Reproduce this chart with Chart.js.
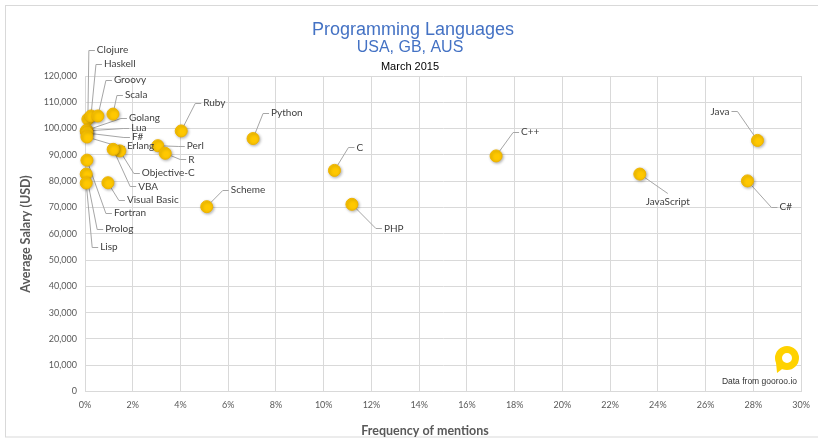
<!DOCTYPE html>
<html>
<head>
<meta charset="utf-8">
<title>Programming Languages</title>
<script src="https://cdn.jsdelivr.net/npm/chart.js@4"></script>
<style>
  body { margin: 0; background: #fff; }
</style>
</head>
<body>
<canvas id="langChart" width="818" height="444"></canvas>
<script>
// data (March 2015)
const languages = ['Clojure', 'Haskell', 'Groovy', 'Scala', 'Golang', 'Lua', 'F#', 'Erlang',
  'Objective-C', 'VBA', 'Visual Basic', 'Fortran', 'Prolog', 'Lisp', 'Ruby', 'Perl', 'R',
  'Python', 'Scheme', 'C', 'PHP', 'C++', 'JavaScript', 'Java', 'C#'];
const mentions = [0.12, 0.25, 0.54, 1.17, 0.08, 0.05, 0.08, 0.08,
  1.46, 1.18, 0.96, 0.08, 0.05, 0.05, 4.03, 3.05, 3.36,
  7.04, 5.1, 10.45, 11.18, 17.22, 23.24, 28.17, 27.75];
const salaries = [103600, 104800, 104800, 105500, 99400, 99100, 98300, 96800,
  91500, 92100, 79400, 88000, 82700, 79300, 99100, 93500, 90600,
  96200, 70300, 84100, 71200, 89600, 82700, 95500, 80100];
const xTickLabels = ['0%', '2%', '4%', '6%', '8%', '10%', '12%', '14%', '16%',
  '18%', '20%', '22%', '24%', '26%', '28%', '30%'];
const yTickLabels = ['0', '10,000', '20,000', '30,000', '40,000', '50,000', '60,000',
  '70,000', '80,000', '90,000', '100,000', '110,000', '120,000'];

// where each label sits relative to its point (px): [dx, dy, align]
const labelPlacement = {
  'Clojure': [9, -69], 'Haskell': [13, -52], 'Groovy': [16, -36], 'Scala': [12, -19],
  'Golang': [42, -12], 'Lua': [45, -3], 'F#': [45, 4], 'Erlang': [40, 9],
  'Objective-C': [22, 22], 'VBA': [25, 37], 'Visual Basic': [19, 17], 'Fortran': [27, 53],
  'Prolog': [19, 55], 'Lisp': [14, 64], 'Ruby': [22, -28], 'Perl': [29, 0], 'R': [23, 6],
  'Python': [18, -26], 'Scheme': [24, -17], 'C': [22, -23], 'PHP': [32, 24], 'C++': [25, -24],
  'JavaScript': [28, 28, 'center'], 'Java': [-28, -29, 'right'], 'C#': [32, 26]
};

const points = languages.map((name, i) => ({ x: mentions[i], y: salaries[i] }));

const leaderLabels = {
  id: 'leaderLabels',
  beforeDatasetsDraw(chart) {
    const ctx = chart.ctx;
    const pts = chart.getDatasetMeta(0).data;
    ctx.save();
    ctx.strokeStyle = '#a6a6a6';
    ctx.lineWidth = 1;
    languages.forEach((name, i) => {
      const [dx, dy, align = 'left'] = labelPlacement[name];
      const px = pts[i].x, py = pts[i].y;
      const tx = px + dx, ty = Math.round(py + dy) + 0.5;
      ctx.beginPath();
      ctx.moveTo(px, py);
      if (align === 'left') {
        ctx.lineTo(tx - 8, ty);
        ctx.lineTo(tx - 2, ty);
      } else if (align === 'right') {
        ctx.lineTo(tx + 8, ty);
        ctx.lineTo(tx + 2, ty);
      } else {
        ctx.lineTo(tx, ty - 9);
      }
      ctx.stroke();
    });
    ctx.restore();
  },
  beforeDatasetDraw(chart) {
    const ctx = chart.ctx;
    ctx.save();
    ctx.shadowColor = 'rgba(0,0,0,0.3)';
    ctx.shadowBlur = 3;
    ctx.shadowOffsetX = 1;
    ctx.shadowOffsetY = 1;
  },
  afterDatasetDraw(chart) {
    chart.ctx.restore();
  },
  afterDatasetsDraw(chart) {
    const ctx = chart.ctx;
    const pts = chart.getDatasetMeta(0).data;
    ctx.save();
    ctx.font = '10px Lato';
    ctx.fillStyle = '#404040';
    ctx.textBaseline = 'middle';
    languages.forEach((name, i) => {
      const [dx, dy, align = 'left'] = labelPlacement[name];
      ctx.textAlign = align;
      ctx.fillText(name, pts[i].x + dx, pts[i].y + dy);
    });
    ctx.restore();
  }
};

const decorations = {
  id: 'decorations',
  beforeDraw(chart) {
    const ctx = chart.ctx;
    ctx.save();
    ctx.fillStyle = '#fff';
    ctx.fillRect(0, 0, chart.width, chart.height);
    ctx.strokeStyle = '#d9d9d9';
    ctx.lineWidth = 1;
    ctx.strokeRect(5.5, 5.5, 840, 431.5);
    ctx.restore();
  },
  afterDraw(chart) {
    const ctx = chart.ctx;
    ctx.save();
    ctx.textAlign = 'center';
    ctx.textBaseline = 'middle';
    ctx.fillStyle = '#4472c4';
    ctx.font = '18px "Liberation Sans"';
    ctx.fillText('Programming Languages', 413, 30);
    ctx.font = '16px "Liberation Sans"';
    ctx.fillText('USA, GB, AUS', 410, 48);
    ctx.fillStyle = '#000';
    ctx.font = '11px "Liberation Sans"';
    ctx.fillText('March 2015', 410, 67);

    // axis titles
    ctx.fillStyle = '#595959';
    ctx.font = 'bold 12.5px Lato';
    ctx.fillText('Frequency of mentions', 425, 431);
    ctx.save();
    ctx.translate(26, 234);
    ctx.rotate(-Math.PI / 2);
    ctx.fillText('Average Salary (USD)', 0, 0);
    ctx.restore();

    // source note + logo
    ctx.textAlign = 'right';
    ctx.fillStyle = '#333';
    ctx.font = '8.5px "Liberation Sans"';
    ctx.fillText('Data from gooroo.io', 797, 382);

    ctx.fillStyle = '#ffd200';
    ctx.strokeStyle = '#ffd200';
    ctx.lineWidth = 7;
    ctx.beginPath();
    ctx.arc(787, 358, 8.5, 0, Math.PI * 2);
    ctx.stroke();
    ctx.beginPath();
    ctx.moveTo(775.5, 357);
    ctx.lineTo(777, 373);
    ctx.lineTo(786, 366);
    ctx.closePath();
    ctx.fill();
    ctx.restore();
  }
};

const tickFont = { family: 'Lato', size: 9 };

new Chart(document.getElementById('langChart'), {
  type: 'scatter',
  data: {
    datasets: [{
      label: 'Languages',
      data: points,
      backgroundColor: '#ffc800',
      borderColor: '#f0b400',
      borderWidth: 1,
      pointRadius: 6,
      pointHoverRadius: 6,
      clip: false
    }]
  },
  options: {
    responsive: false,
    animation: false,
    layout: {
      autoPadding: false,
      padding: { left: 20, right: 13, top: 76, bottom: 32.5 }
    },
    plugins: {
      legend: { display: false },
      tooltip: { enabled: false }
    },
    scales: {
      x: {
        type: 'linear',
        min: 0,
        max: 30,
        ticks: {
          stepSize: 2,
          padding: 8,
          maxRotation: 0,
          color: '#595959',
          font: tickFont,
          callback: (v, i) => xTickLabels[i]
        },
        grid: { color: '#d9d9d9', drawTicks: false },
        border: { color: '#d9d9d9' },
        afterFit(scale) { scale.height = 20; }
      },
      y: {
        min: 0,
        max: 120000,
        ticks: {
          stepSize: 10000,
          padding: 8,
          color: '#595959',
          font: tickFont,
          callback: (v, i) => yTickLabels[i]
        },
        grid: { color: '#d9d9d9', drawTicks: false },
        border: { color: '#d9d9d9' },
        afterFit(scale) { scale.width = 65; }
      }
    }
  },
  plugins: [decorations, leaderLabels]
});
</script>
</body>
</html>
